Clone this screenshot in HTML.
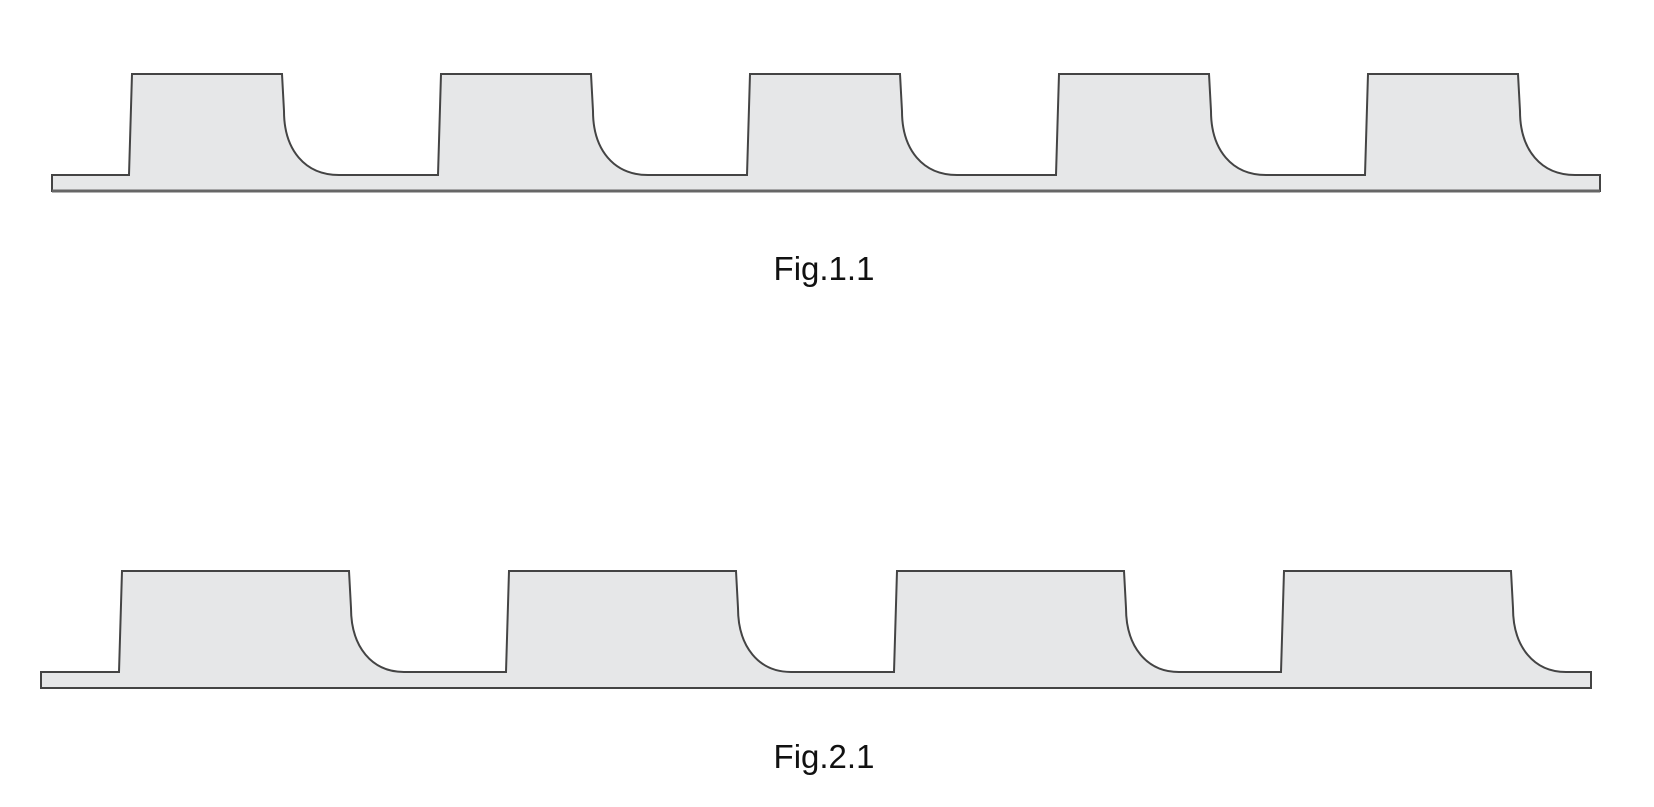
<!DOCTYPE html>
<html><head><meta charset="utf-8"><style>
html,body{margin:0;padding:0;background:#fff;}
svg{display:block;}
</style></head><body>
<svg width="1654" height="807" viewBox="0 0 1654 807" xmlns="http://www.w3.org/2000/svg">
<path d="M52,191 L52,175 L129,175 L132,74 L282,74 L284,111 C284,150 305,175 339,175 L438,175 L441,74 L591,74 L593,111 C593,150 614,175 648,175 L747,175 L750,74 L900,74 L902,111 C902,150 923,175 957,175 L1056,175 L1059,74 L1209,74 L1211,111 C1211,150 1232,175 1266,175 L1365,175 L1368,74 L1518,74 L1520,111 C1520,150 1541,175 1575,175 L1600,175 L1600,191 Z" fill="#e6e7e8" stroke="#444" stroke-width="2" stroke-linejoin="miter"/>
<line x1="52" y1="191" x2="1600" y2="191" stroke="#666" stroke-width="3"/>
<path d="M41,688 L41,672 L119,672 L122,571 L349,571 L351,608 C351,647 372,672 404,672 L506,672 L509,571 L736,571 L738,608 C738,647 759,672 791,672 L894,672 L897,571 L1124,571 L1126,608 C1126,647 1147,672 1179,672 L1281,672 L1284,571 L1511,571 L1513,608 C1513,647 1534,672 1566,672 L1591,672 L1591,688 Z" fill="#e6e7e8" stroke="#444" stroke-width="2"/>
<text x="824" y="280" text-anchor="middle" font-family="Liberation Sans, sans-serif" font-size="33" fill="#111">Fig.1.1</text>
<text x="824" y="768" text-anchor="middle" font-family="Liberation Sans, sans-serif" font-size="33" fill="#111">Fig.2.1</text>
</svg>
</body></html>
